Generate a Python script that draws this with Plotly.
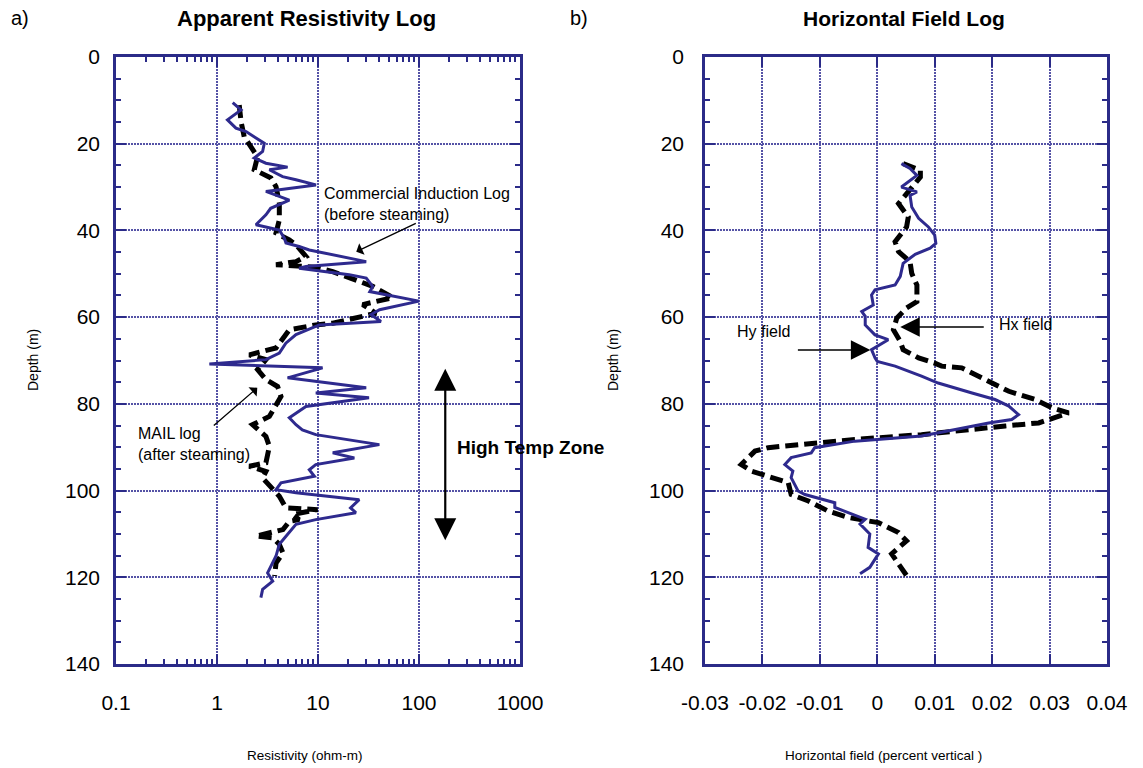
import plotly.graph_objects as go

W, H = 1143, 768

# ---------------- data ----------------
# Left panel: apparent resistivity (ohm-m) vs depth (m)
comm_depth = [10.5, 12.2, 14.5, 16.4, 17.2, 19.9, 21.8, 23.3, 24.5, 25.4, 26.0, 27.6, 28.3, 29.5,
              31.0, 33.0, 34.9, 36.4, 38.7, 39.9, 41.8, 42.9, 43.7, 44.5, 47.2, 48.3, 48.7, 50.2,
              51.0, 52.9, 54.1, 55.2, 56.3, 58.3, 59.4, 61.0, 61.8, 64.0, 66.0, 68.3, 69.8, 70.8,
              71.7, 74.0, 76.3, 77.5, 78.6, 80.6, 83.2, 84.8, 86.0, 87.1, 89.4, 91.3, 92.5, 94.0,
              95.2, 96.7, 98.2, 99.8, 100.5, 102.1, 104.0, 105.1, 106.7, 107.8, 110.5, 112.4,
              115.1, 119.0, 120.9, 122.8, 124.7]
comm_res = [1.43, 1.73, 1.27, 1.54, 1.94, 2.94, 2.83, 2.34, 3.05, 5.0, 3.3, 4.46, 6.05, 9.55,
            3.05, 5.2, 3.4, 3.05, 2.43, 4.14, 4.64, 4.82, 6.5, 8.2, 30.0, 7.6, 6.5, 20.4,
            30.0, 34.8, 32.6, 55.0, 100.0, 40.7, 33.5, 42.0, 10.3, 6.05, 4.8, 4.14, 3.05, 0.84,
            11.1, 5.0, 30.0, 9.5, 32.0, 7.6, 5.2, 6.05, 7.0, 9.5, 40.5, 14.0, 22.9, 9.5,
            8.2, 9.2, 4.3, 3.84, 6.05, 25.6, 21.0, 23.7, 9.5, 6.05, 4.8, 4.14,
            3.84, 3.17, 3.56, 2.83, 2.72]

mail_depth = [11.1, 14.9, 18.4, 21.0, 23.0, 26.0, 27.9, 29.9, 33.7, 37.6, 40.6, 42.2, 43.3, 46.0,
              47.2, 47.9, 48.1, 48.5, 49.5, 51.4, 52.9, 55.5, 57.1, 59.1, 60.2, 61.4, 61.8, 62.9,
              67.1, 68.7, 69.8, 72.1, 74.4, 76.0, 78.3, 81.3, 82.9, 84.8, 86.7, 87.5, 89.8, 93.6,
              94.4, 95.6, 97.1, 101.3, 104.0, 104.4, 105.5, 106.7, 107.1, 109.0, 110.5, 110.9,
              112.4, 114.4, 116.7, 119.7]
mail_res = [1.66, 1.73, 1.86, 2.25, 2.52, 2.34, 3.42, 3.84, 4.14, 4.14, 3.84, 5.2, 6.05, 7.6,
            6.05, 3.84, 6.5, 9.5, 14.0, 23.7, 34.8, 55.0, 27.7, 37.6, 23.7, 14.0, 9.5, 5.2,
            3.84, 2.09, 3.05, 2.52, 3.05, 3.98, 4.3, 3.56, 3.3, 2.25, 2.83, 3.05, 3.3, 3.05,
            2.09, 3.05, 2.83, 4.14, 4.82, 9.9, 5.6, 6.5, 5.2, 4.5, 2.43, 3.56,
            4.14, 4.5, 3.84, 3.72]

# Right panel: horizontal field (percent vertical) vs depth (m)
hy_depth = [24.6, 25.7, 27.3, 30.0, 31.1, 31.9, 34.6, 37.2, 39.2, 41.1, 43.0, 44.1, 45.5, 47.6,
            50.6, 52.6, 53.7, 54.9, 57.2, 58.7, 59.8, 61.8, 64.1, 65.2, 67.5, 69.4, 70.2, 71.3,
            73.6, 75.2, 77.5, 79.0, 80.5, 82.5, 83.6, 84.4, 85.9, 87.4, 88.6, 90.1, 91.3, 92.4,
            94.0, 95.5, 97.0, 100.1, 100.9, 102.8, 103.9, 106.6, 107.7, 110.0, 113.1, 114.6,
            117.7, 119.2]
hy_val = [0.0042, 0.0057, 0.0069, 0.0042, 0.0069, 0.0057, 0.0060, 0.0072, 0.0089, 0.0100, 0.0102,
          0.0092, 0.0066, 0.0045, 0.0040, 0.0031, -0.0004, -0.0010, -0.0007, -0.0027, -0.0021,
          -0.0021, -0.0004, 0.0019, -0.0010, -0.0004, 0.0000, 0.0031, 0.0077, 0.0106, 0.0165,
          0.0205, 0.0229, 0.0246, 0.0234, 0.0194, 0.0136, 0.0077, -0.0039, -0.0109, -0.0115,
          -0.0150, -0.0161, -0.0147, -0.0150, -0.0138, -0.0126, -0.0074, -0.0074, -0.0021,
          -0.0030, -0.0013, -0.0016, 0.0002, -0.0013, -0.0030]

hx_depth = [24.6, 26.1, 27.7, 31.9, 33.8, 36.9, 39.2, 42.6, 44.9, 47.2, 49.9, 52.6, 56.4, 57.9,
            60.2, 62.9, 65.6, 67.5, 69.4, 70.6, 71.3, 71.7, 73.3, 74.8, 77.1, 79.0, 80.9, 82.1,
            83.2, 84.4, 85.1, 87.1, 88.2, 90.1, 90.9, 94.0, 95.5, 98.2, 100.9, 102.4, 104.7,
            106.2, 107.4, 109.7, 111.6, 114.6, 119.6]
hx_val = [0.0045, 0.0075, 0.0075, 0.0048, 0.0037, 0.0054, 0.0051, 0.0031, 0.0037, 0.0057, 0.0060,
          0.0069, 0.0069, 0.0051, 0.0034, 0.0028, 0.0040, 0.0045, 0.0072, 0.0100, 0.0112, 0.0147,
          0.0170, 0.0194, 0.0229, 0.0275, 0.0304, 0.0333, 0.0310, 0.0281, 0.0223, 0.0077,
          -0.0039, -0.0190, -0.0213, -0.0237, -0.0219, -0.0155, -0.0150, -0.0120, -0.0086,
          -0.0051, 0.0002, 0.0037, 0.0051, 0.0025, 0.0051]

res_ticks = [0.1, 1, 10, 100, 1000]
res_ticktext = ["0.1", "1", "10", "100", "1000"]
field_ticks = [-0.03, -0.02, -0.01, 0, 0.01, 0.02, 0.03, 0.04]
field_ticktext = ["-0.03", "-0.02", "-0.01", "0", "0.01", "0.02", "0.03", "0.04"]
depth_ticks = [0, 20, 40, 60, 80, 100, 120, 140]

# ---------------- style ----------------
NAVY = "#2b2b88"
LINE_BLUE = "#2e2a8e"
FONT = "Liberation Sans, Arial, Helvetica, sans-serif"


def px_x(p):
    return p / W


def px_y(p):
    return 1 - p / H


fig = go.Figure()

fig.add_trace(go.Scatter(x=mail_res, y=mail_depth, mode="lines",
                         line=dict(color="black", width=5, dash="13px,6px"),
                         xaxis="x", yaxis="y", showlegend=False))
fig.add_trace(go.Scatter(x=comm_res, y=comm_depth, mode="lines",
                         line=dict(color=LINE_BLUE, width=3),
                         xaxis="x", yaxis="y", showlegend=False))
fig.add_trace(go.Scatter(x=hx_val, y=hx_depth, mode="lines",
                         line=dict(color="black", width=5, dash="13px,6px"),
                         xaxis="x2", yaxis="y2", showlegend=False))
fig.add_trace(go.Scatter(x=hy_val, y=hy_depth, mode="lines",
                         line=dict(color=LINE_BLUE, width=3),
                         xaxis="x2", yaxis="y2", showlegend=False))

axis_common = dict(
    showline=True, linecolor=NAVY, linewidth=2.5, mirror="allticks",
    ticks="inside", ticklen=10, tickwidth=2, tickcolor=NAVY,
    showgrid=True, gridcolor="#5553a6", gridwidth=2, griddash="2px,1px",
    zeroline=False, automargin=False,
    tickfont=dict(family=FONT, size=21, color="black"),
)

minor_log = [m * 10 ** e for e in (-1, 0, 1, 2) for m in range(2, 10)]

yd = [1 - 664 / H, 1 - 57 / H]

fig.update_layout(
    width=W, height=H,
    margin=dict(l=0, r=0, t=0, b=0),
    plot_bgcolor="white", paper_bgcolor="white",
    font=dict(family=FONT, color="black"),
    xaxis=dict(axis_common, type="log", range=[-1, 3], domain=[116 / W, 520 / W],
               tickmode="array", tickvals=res_ticks, ticktext=res_ticktext,
               ticklabelstandoff=18,
               minor=dict(tickmode="array", tickvals=minor_log, ticks="inside",
                          ticklen=5, tickwidth=1.5, tickcolor=NAVY, showgrid=False),
               anchor="y"),
    yaxis=dict(axis_common, range=[140, 0], domain=yd,
               tickmode="array", tickvals=depth_ticks, ticklabelstandoff=9,
               minor=dict(dtick=5, ticks="inside", ticklen=5, tickwidth=1.5,
                          tickcolor=NAVY, showgrid=False),
               anchor="x"),
    xaxis2=dict(axis_common, range=[-0.03, 0.04], domain=[705 / W, 1107 / W],
                tickmode="array", tickvals=field_ticks, ticktext=field_ticktext,
                ticklabelstandoff=18, anchor="y2"),
    yaxis2=dict(axis_common, range=[140, 0], domain=yd,
                tickmode="array", tickvals=depth_ticks, ticklabelstandoff=14,
                minor=dict(dtick=5, ticks="inside", ticklen=5, tickwidth=1.5,
                           tickcolor=NAVY, showgrid=False),
                anchor="x2"),
)


def paper_text(text, x, y, size, angle=0):
    return dict(text=text, x=px_x(x), y=px_y(y), xref="paper", yref="paper",
                xanchor="center", yanchor="middle", showarrow=False, textangle=angle,
                font=dict(size=size, family=FONT, color="black"))


ann = []
# Titles and panel labels
ann.append(paper_text("<b>Apparent Resistivity Log</b>", 306, 18, 22))
ann.append(paper_text("<b>Horizontal Field Log</b>", 904, 18, 21))
ann.append(paper_text("a)", 20, 18, 20))
ann.append(paper_text("b)", 579, 18, 20))
# Axis titles
ann.append(paper_text("Depth (m)", 33, 360, 14, -90))
ann.append(paper_text("Depth (m)", 613, 360, 14, -90))
ann.append(paper_text("Resistivity (ohm-m)", 305, 755, 13.5))
ann.append(paper_text("Horizontal field (percent vertical )", 883, 755, 13.5))

# Left panel annotations
ann.append(dict(text="Commercial Induction Log<br>(before steaming)", x=1.043, y=34.0,
                xref="x", yref="y", xanchor="left", yanchor="middle", align="left",
                showarrow=False, font=dict(size=16, family=FONT)))
ann.append(dict(text="", x=1.379, y=44.9, xref="x", yref="y", showarrow=True,
                ax=61, ay=-29, arrowhead=1, arrowsize=1.6, arrowwidth=1.3,
                arrowcolor="black"))
ann.append(dict(text="MAIL log<br>(after steaming)", x=-0.799, y=89.3,
                xref="x", yref="y", xanchor="left", yanchor="middle", align="left",
                showarrow=False, font=dict(size=16, family=FONT)))
ann.append(dict(text="", x=0.399, y=76.3, xref="x", yref="y", showarrow=True,
                ax=-45, ay=39, arrowhead=1, arrowsize=1.6, arrowwidth=1.3,
                arrowcolor="black"))
ann.append(dict(text="<b>High Temp Zone</b>", x=2.357, y=90.1, xref="x", yref="y",
                xanchor="left", yanchor="middle", showarrow=False,
                font=dict(size=19, family=FONT)))
ann.append(dict(text="", x=2.26, y=71.9, xref="x", yref="y", showarrow=True,
                ax=2.26, ay=111.8, axref="x", ayref="y",
                arrowhead=2, startarrowhead=2, arrowside="end+start",
                arrowsize=2, startarrowsize=2, arrowwidth=2.2, arrowcolor="black"))

# Right panel annotations
ann.append(dict(text="Hx field", x=0.0208, y=61.8, xref="x2", yref="y2",
                xanchor="left", yanchor="middle", showarrow=False,
                font=dict(size=16, family=FONT)))
ann.append(dict(text="", x=0.0040, y=62.3, xref="x2", yref="y2", showarrow=True,
                ax=85, ay=0, arrowhead=2, arrowsize=2.6, arrowwidth=1.5,
                arrowcolor="black"))
ann.append(dict(text="Hy field", x=-0.0248, y=63.2, xref="x2", yref="y2",
                xanchor="left", yanchor="middle", showarrow=False,
                font=dict(size=16, family=FONT)))
ann.append(dict(text="", x=-0.0012, y=67.6, xref="x2", yref="y2", showarrow=True,
                ax=-74, ay=0, arrowhead=2, arrowsize=2.6, arrowwidth=1.5,
                arrowcolor="black"))

fig.update_layout(annotations=ann)

fig.write_html("out.html", config={"displayModeBar": False},
               post_script="document.body.style.margin='0px';")
